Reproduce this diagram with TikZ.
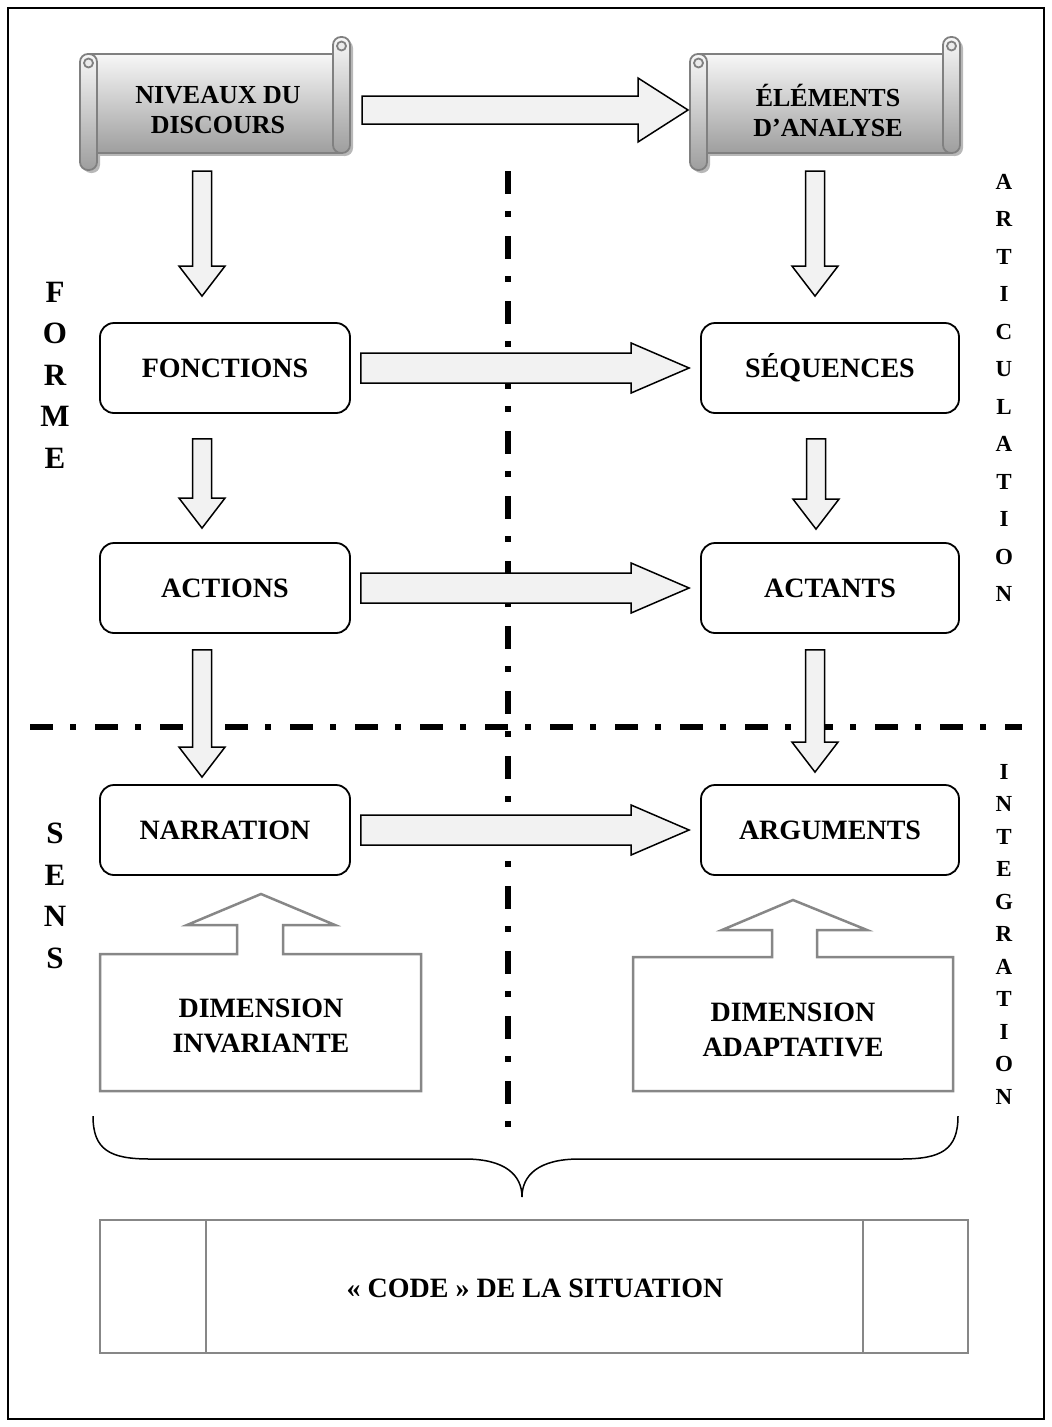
\documentclass[tikz,border=0pt]{standalone}
\usepackage{fontspec}
\setmainfont{Liberation Serif}
\usetikzlibrary{calc}

% horizontal block arrow: start, end, shaft half-width, head half-width, head length
\newcommand\hblockarrow[5]{%
  \path #1 coordinate (bs) #2 coordinate (be);
  \draw[blockfill] let \p1=(bs), \p2=(be) in
    (\x1,\y1+#3) -- (\x2-#5,\y1+#3) -- (\x2-#5,\y1+#4) -- (\x2,\y1)
    -- (\x2-#5,\y1-#4) -- (\x2-#5,\y1-#3) -- (\x1,\y1-#3) -- cycle;}
% downward block arrow: start, end, shaft half-width, head half-width, head length
\newcommand\vblockarrow[5]{%
  \path #1 coordinate (bs) #2 coordinate (be);
  \draw[blockfill] let \p1=(bs), \p2=(be) in
    (\x1-#3,\y1) -- (\x1-#3,\y2+#5) -- (\x1-#4,\y2+#5) -- (\x1,\y2)
    -- (\x1+#4,\y2+#5) -- (\x1+#3,\y2+#5) -- (\x1+#3,\y1) -- cycle;}

\begin{document}
\begin{tikzpicture}[x=1pt,y=-1pt,
  every node/.style={font=\bfseries},
  roundbox/.style={draw, line width=1.8pt, rounded corners=14pt,
    minimum height=90pt, font=\fontsize{28}{32}\selectfont\bfseries},
  scrolltext/.style={align=center, font=\fontsize{26}{30}\selectfont\bfseries},
  blockfill/.style={draw, fill=black!5, line width=1.5pt, line join=miter},
  dimline/.style={draw=black!47, line width=2.5pt, fill=white, line join=miter},
  dimtext/.style={align=center, font=\fontsize{28}{35}\selectfont\bfseries},
  sepline/.style={line width=6pt, dash pattern=on 23pt off 17pt on 6pt off 19pt},
  bigletters/.style={align=center, font=\fontsize{31}{41.5}\selectfont\bfseries},
  smallletters/.style={align=center, font=\fontsize{23}{37.5}\selectfont\bfseries},
  scrollshade/.style={top color=black!3, bottom color=black!38},
  scrollline/.style={draw=black!50, line width=1.8pt},
  scrollpic/.pic={
    % drop shadow
    \begin{scope}[shift={(3,3)}]
      \fill[black!28] (8.5,17) rectangle (261.5,116);
      \fill[black!28, rounded corners=8pt] (0,17) rectangle (17,133);
      \fill[black!28, rounded corners=8pt] (253,0) rectangle (270,116);
    \end{scope}
    % sheet
    \shade[scrollshade] (8.5,17) rectangle (261.5,116);
    \draw[scrollline] (8.5,17) rectangle (261.5,116);
    % right roll
    \shade[scrollshade, rounded corners=8pt] (253,0) rectangle (270,116);
    \draw[scrollline, rounded corners=8pt] (253,0) rectangle (270,116);
    \draw[scrollline, fill=black!8] (261.5,9) circle (4.5pt);
    % left roll
    \shade[scrollshade, rounded corners=8pt] (0,17) rectangle (17,133);
    \draw[scrollline, rounded corners=8pt] (0,17) rectangle (17,133);
    \draw[scrollline, fill=black!8] (8.5,26) circle (4.5pt);
  }]

\useasboundingbox (0,0) rectangle (1052,1427);
\draw[line width=2.5pt] (8,8) rectangle (1044,1419);

% separators
\draw[sepline] (508,171) -- (508,1145);
\draw[sepline] (30,727) -- (1022,727);

% scrolls
\pic at (80,37) {scrollpic};
\pic at (690,37) {scrollpic};
\node[scrolltext] (niv) at (218,110) {NIVEAUX DU\\DISCOURS};
\node[scrolltext] (elem) at (828,110) {ÉLÉMENTS\\D’ANALYSE};

% boxes
\node[roundbox, minimum width=250pt] (fon) at (225,368) {FONCTIONS};
\node[roundbox, minimum width=258pt] (seq) at (830,368) {SÉQUENCES};
\node[roundbox, minimum width=250pt] (act) at (225,588) {ACTIONS};
\node[roundbox, minimum width=258pt] (actn) at (830,588) {ACTANTS};
\node[roundbox, minimum width=250pt] (nar) at (225,830) {NARRATION};
\node[roundbox, minimum width=258pt] (arg) at (830,830) {ARGUMENTS};

% horizontal arrows
\hblockarrow{($(niv.center)+(144,0)$)}{($(elem.center)+(-140,0)$)}{14pt}{32pt}{50pt}
\hblockarrow{($(fon.east)+(10,0)$)}{($(seq.west)+(-11,0)$)}{15pt}{25pt}{58pt}
\hblockarrow{($(act.east)+(10,0)$)}{($(actn.west)+(-11,0)$)}{15pt}{25pt}{58pt}
\hblockarrow{($(nar.east)+(10,0)$)}{($(arg.west)+(-11,0)$)}{15pt}{25pt}{58pt}

% vertical arrows
\vblockarrow{($(niv.center)+(-16,61)$)}{($(fon.north)+(-23,-26)$)}{9.5pt}{23pt}{30pt}
\vblockarrow{($(elem.center)+(-13,61)$)}{($(seq.north)+(-15,-26)$)}{9.5pt}{23pt}{30pt}
\vblockarrow{($(fon.south)+(-23,25)$)}{($(act.north)+(-23,-14)$)}{9.5pt}{23pt}{30pt}
\vblockarrow{($(seq.south)+(-14,25)$)}{($(actn.north)+(-14,-13)$)}{9.5pt}{23pt}{30pt}
\vblockarrow{($(act.south)+(-23,16)$)}{($(nar.north)+(-23,-7)$)}{9.5pt}{23pt}{30pt}
\vblockarrow{($(actn.south)+(-15,16)$)}{($(arg.north)+(-15,-12)$)}{9.5pt}{23pt}{30pt}

% dimension boxes with upward arrows
\draw[dimline] (100,1091) -- (100,954) -- (237,954) -- (237,925) -- (187,925)
  -- (261,894) -- (335,925) -- (283,925) -- (283,954) -- (421,954) -- (421,1091) -- cycle;
\node[dimtext] (dinv) at (261,1026) {DIMENSION\\INVARIANTE};
\draw[dimline] (633,1091) -- (633,957) -- (772,957) -- (772,930) -- (722,930)
  -- (793,900) -- (867,930) -- (817,930) -- (817,957) -- (953,957) -- (953,1091) -- cycle;
\node[dimtext] (dada) at (793,1030) {DIMENSION\\ADAPTATIVE};

% brace
\draw[line width=1.5pt]
  (93,1116) .. controls (93,1150) and (110,1159) .. (150,1159) -- (465,1159)
  .. controls (505,1159) and (522,1175) .. (522,1197)
  .. controls (522,1175) and (539,1159) .. (579,1159) -- (901,1159)
  .. controls (941,1159) and (958,1150) .. (958,1116);

% situation box
\draw[draw=black!47, line width=2.5pt] (100,1220) rectangle (968,1353);
\draw[draw=black!47, line width=2.5pt] (206,1220) -- (206,1353);
\draw[draw=black!47, line width=2.5pt] (863,1220) -- (863,1353);
\node[font=\fontsize{28}{32}\selectfont\bfseries] (code) at (535,1288) {« CODE » DE LA SITUATION};

% side labels
\node[bigletters] (forme) at (55,375) {F\\O\\R\\M\\E};
\node[bigletters] (sens) at (55,896) {S\\E\\N\\S};
\node[smallletters] (artic) at (1004,388) {A\\R\\T\\I\\C\\U\\L\\A\\T\\I\\O\\N};
\node[smallletters, font=\fontsize{23}{32.5}\selectfont\bfseries] (integ) at (1004,934) {I\\N\\T\\E\\G\\R\\A\\T\\I\\O\\N};

\end{tikzpicture}
\end{document}
